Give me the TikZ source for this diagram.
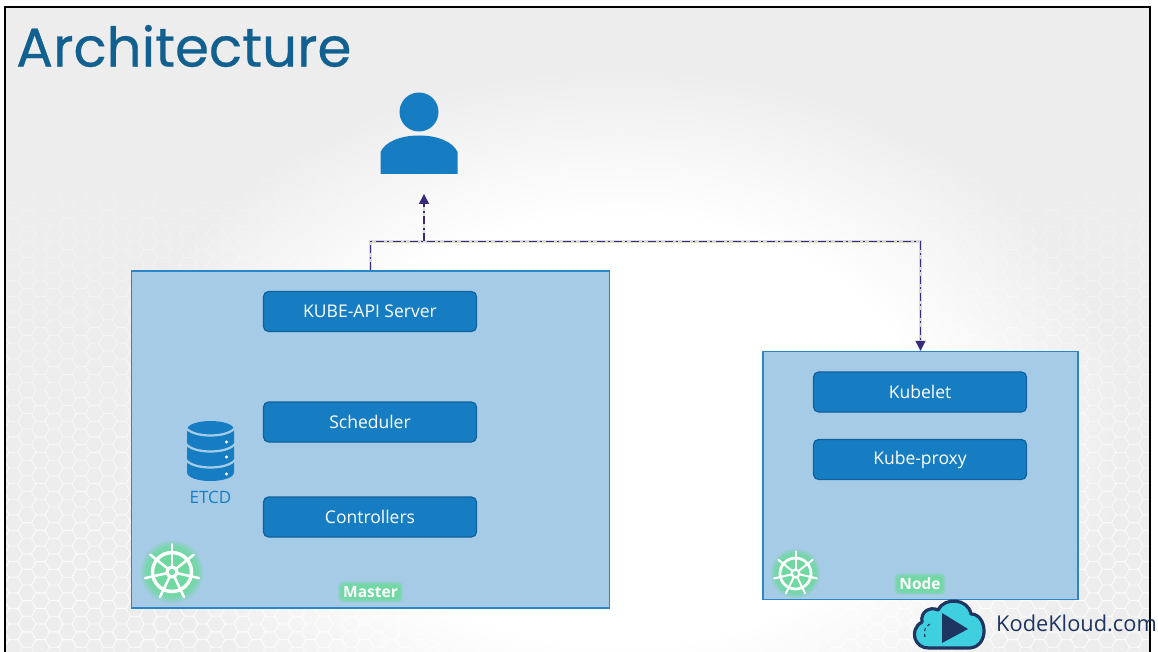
\documentclass[tikz,border=0pt]{standalone}
\usepackage{fontspec}
\setmainfont{Open Sans}
\newfontfamily\titlefont[FakeBold=0.5]{Poppins}
\usetikzlibrary{positioning,arrows.meta}
\definecolor{boxblue}{HTML}{177DC3}
\definecolor{boxedge}{HTML}{12609A}
\definecolor{paneblue}{HTML}{A6CBE7}
\definecolor{paneedge}{HTML}{2B85C6}
\definecolor{titleblue}{HTML}{12608F}
\definecolor{linkpurple}{HTML}{3A2A78}
\definecolor{glowgreen}{HTML}{6FD9A0}
\definecolor{cloudcyan}{HTML}{3FD0E0}
\definecolor{clouddark}{HTML}{1D3560}
\pgfdeclareradialshading{blob}{\pgfpointorigin}{color(0bp)=(white);color(12.5bp)=(white);color(21bp)=(black!7);color(50bp)=(black!7)}
\tikzset{
	svc/.style={draw=boxedge,line width=1.2pt,fill=boxblue,rounded corners=5pt,text=white,
		minimum width=213pt,minimum height=40pt,inner sep=0pt,font=\fontsize{17.5}{20}\selectfont},
	pane/.style={draw=paneedge,line width=1.5pt,fill=paneblue,inner sep=0pt},
	link/.style={draw=linkpurple,line width=1.7pt,dash pattern=on 8pt off 3.5pt on 2pt off 3.5pt},
	linkshade/.style={draw=black!30,line width=2.5pt,opacity=.45,shift={(2pt,-3pt)}},
	tag/.style={text=white,font=\bfseries\fontsize{15.5}{18}\selectfont,inner sep=0pt},
	halo/.style={fill=glowgreen,rounded corners=4pt},
}
\newcommand{\helm}[3]{% wheel at #1, radius #2, name #3
	\begin{scope}[shift={#1}]
		\foreach \rr/\oo in {1.62/.2,1.52/.3,1.42/.4,1.32/.5,1.2/.7,1.05/.95}
			\fill[glowgreen,opacity=\oo] (0,0) circle ({#2*\rr});
		\draw[white,line width=#2*0.18pt] (0,0) circle (#2);
		\foreach \a in {-90,-38.57,...,260}{
			\draw[white,line width=#2*0.13pt,line cap=round] (0,0) -- (\a:#2*1.42);
		}
		\fill[white] (0,0) circle (#2*0.33);
		\fill[glowgreen] (0,0) circle (#2*0.16);
		\coordinate (#3) at (0,0);
	\end{scope}
}
\begin{document}
\begin{tikzpicture}[x=1pt,y=-1pt]
	\useasboundingbox (0,0) rectangle (1158,652);
	% backdrop
	\fill[white] (0,0) rectangle (1158,652);
	\begin{scope}
		\clip (5,7) rectangle (1150,652);
		\shade[shading=blob] (20,0) rectangle (1220,860);
		\fill[black!7] (5,7) rectangle (20,652);
		\foreach \j in {6,...,41}{
			\pgfmathsetmacro{\hexfade}{(\j-6)/35*.6}
			\foreach \i in {0,...,85}{
				\pgfmathsetmacro{\hx}{13.5*\i}
				\pgfmathsetmacro{\hy}{15.6*\j+7.8*mod(\i,2)}
				\draw[white,draw opacity=\hexfade,line width=.9pt] (\hx+9,\hy) -- (\hx+4.5,\hy+7.8) -- (\hx-4.5,\hy+7.8) -- (\hx-9,\hy) -- (\hx-4.5,\hy-7.8) -- (\hx+4.5,\hy-7.8) -- cycle;
			}
		}
	\end{scope}
	\draw[black,line width=2.5pt] (5,652) -- (5,7) -- (1150,7) -- (1150,652);

	\node[anchor=west,inner sep=0pt,text=titleblue,font=\titlefont\fontsize{54.7}{60}\selectfont] (title) at (16,46) {Architecture};

	% panes
	\node[pane,minimum width=478pt,minimum height=337pt] (master) at (370.5,439.5) {};
	\node[pane,minimum width=315pt,minimum height=248pt] (node) at (920.5,475.5) {};

	\node[svc] (api) at (370,311.5) {KUBE-API Server};
	\node[svc] (sched) at (370,422) {Scheduler};
	\node[svc] (ctrl) at (370,517) {Controllers};
	\node[svc] (kubelet) at (920,392) {Kubelet};
	\node[svc] (proxy) at (920,459.5) {Kube-proxy};

	% etcd drum
	\fill[boxblue] (187,430) .. controls (187,418) and (234,418) .. (234,430) -- (234,472)
		.. controls (234,484) and (187,484) .. (187,472) -- cycle;
	\foreach \yy in {428,444,460}{
		\draw[paneblue,line width=2.2pt] (186,\yy) .. controls (194,\yy+10) and (227,\yy+10) .. (235,\yy);
	}
	\foreach \yy in {442,457,474}{
		\fill[white] (226.5,\yy) circle (1.7);
	}
	\node[text=boxblue,inner sep=0pt,font=\fontsize{17}{18}\selectfont] (etcd) at (210.5,497) {ETCD};

	\helm{(172,572)}{19.5}{wheelA}
	\helm{(795.5,573.5)}{15.5}{wheelB}

	% glow behind the tags
	\foreach \gg/\oo in {5/.25,4/.35,3/.5,1.5/.8}{
		\node[tag,text=glowgreen,halo,inner xsep=\gg pt,inner ysep=\gg pt,opacity=\oo] at (370.5,592) {Master};
		\node[tag,text=glowgreen,halo,inner xsep=\gg pt,inner ysep=\gg pt,opacity=\oo] at (920,584) {Node};
	}
	\node[tag] (mastertag) at (370.5,592) {Master};
	\node[tag] (nodetag) at (920,584) {Node};

	% user
	\fill[boxblue] (419,112) circle (19.5);
	\fill[boxblue] (380.5,174) -- (380.5,152) .. controls (385,142) and (400,135.5) .. (419,135.5)
		.. controls (438,135.5) and (453,142) .. (457.5,152) -- (457.5,174) -- cycle;
	\coordinate (user) at (424,194);

	% links
	\coordinate (bend) at (370.5,241.5);
	\coordinate (bendb) at (920.5,241.5);
	\coordinate (branch) at (424,241.5);
	\draw[linkshade] (master.north) -- (bend) -- (bendb) -- (node.north);
	\draw[linkshade] (branch) -- (user);
	\draw[link] (master.north) -- (bend) -- (bendb);
	\draw[link,-{Triangle[length=10pt,width=10pt]}] (bendb) -- (node.north);
	\draw[link,-{Triangle[length=10pt,width=10pt]}] (branch) -- (user);

	% logo
	\draw[clouddark,fill=cloudcyan,line width=3.2pt,line join=round]
		(929,648) .. controls (915,649) and (908,630) .. (922,622)
		.. controls (920,612) and (930,606) .. (938,610)
		.. controls (944,597) and (968,598) .. (971,614)
		.. controls (987,614) and (990,646) .. (970,648) -- cycle;
	\draw[clouddark,line width=1.2pt,dashed] (925,637) .. controls (923,630) and (926,626) .. (930,624);
	\fill[clouddark] (942,613) -- (968,629) -- (942,643) -- cycle;
	\node[anchor=west,inner sep=0pt,text=clouddark,font=\fontsize{21.8}{24}\selectfont] (brand) at (996,623) {KodeKloud.com};
\end{tikzpicture}
\end{document}
